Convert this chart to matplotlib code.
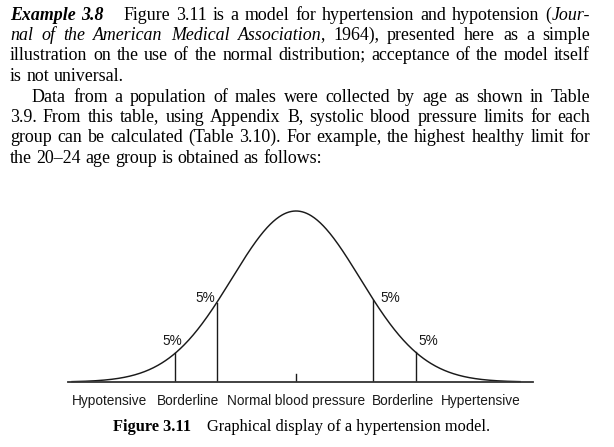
import re
import numpy as np
import matplotlib
matplotlib.use("Agg")
import matplotlib.pyplot as plt
from matplotlib.font_manager import FontProperties

W, H = 614, 447

# paragraph text, one entry per printed line: (markup, indent px, justified)
# **bold italic**, _italic_, ~ = extra gap
text_lines = [
    ("**Example 3.8** ~ Figure 3.11 is a model for hypertension and hypotension (_Jour-_", 0, True),
    ("_nal of the American Medical Association_, 1964), presented here as a simple", 0, True),
    ("illustration on the use of the normal distribution; acceptance of the model itself", 0, True),
    ("is not universal.", 0, False),
    ("Data from a population of males were collected by age as shown in Table", 22, True),
    ("3.9. From this table, using Appendix B, systolic blood pressure limits for each", 0, True),
    ("group can be calculated (Table 3.10). For example, the highest healthy limit for", 0, True),
    ("the 20\u201324 age group is obtained as follows:", 0, False),
]
line_baselines = [20, 40, 60, 81, 102, 122, 142, 163]

# model cut-offs (in standard deviations) and labels
cutoffs = [-1.89, -1.24, 1.21, 1.87]
pct_labels = ["5%", "5%", "5%", "5%"]
pct_x = [-1.94, -1.41, 1.48, 2.06]
pct_y = [0.216, 0.47, 0.47, 0.216]
categories = ["Hypotensive", "Borderline", "Normal blood pressure", "Borderline", "Hypertensive"]
category_x = [-2.91, -1.69, 0.0, 1.67, 2.89]

caption_bold = "Figure 3.11"
caption_text = "Graphical display of a hypertension model."

serif = "Liberation Serif"
sans = "Liberation Sans"
styles = {
    "n": dict(family=serif, style="normal", weight="normal"),
    "i": dict(family=serif, style="italic", weight="normal"),
    "bi": dict(family=serif, style="italic", weight="bold"),
}
body_size = 12.9

fig = plt.figure(figsize=(W / 100, H / 100), dpi=100)
renderer = fig.canvas.get_renderer()


def parse(markup):
    segs = []
    for part in re.split(r"(\*\*.*?\*\*|_.*?_)", markup):
        if part.startswith("**"):
            segs.append((part[2:-2], "bi"))
        elif part.startswith("_"):
            segs.append((part[1:-1], "i"))
        elif part:
            segs.append((part, "n"))
    words = [[]]
    for txt, st in segs:
        pieces = txt.split(" ")
        for k, p in enumerate(pieces):
            if k > 0:
                words.append([])
            if p:
                words[-1].append((p, st))
    return [w for w in words if w]


def width_of(txt, st, size):
    t = fig.text(0, 0, txt, fontsize=size, **styles[st])
    w = t.get_window_extent(renderer).width
    t.remove()
    return w


def descent_frac(txt, st, size):
    # agg snaps each word by its own descent; undo the fractional part
    prop = FontProperties(size=size, **styles[st])
    d = renderer.get_text_width_height_descent(txt, prop, ismath=False)[2]
    return d - np.floor(d)


left, right = 10.0, 590.0
for (markup, indent, justify), yb in zip(text_lines, line_baselines):
    words = parse(markup)
    widths = []
    for w in words:
        if w == [("~", "n")]:
            widths.append([7.0])
        else:
            ws = [width_of(t, s, body_size) for t, s in w]
            # italic run followed by upright punctuation sits a bit too far apart
            for k in range(1, len(w)):
                if w[k - 1][1] == "i" and w[k][1] == "n":
                    ws[k - 1] -= 1.0
            widths.append(ws)
    total = sum(sum(ws) for ws in widths)
    if justify:
        gap = (right - left - indent - total) / (len(words) - 1)
    else:
        gap = width_of("a b", "n", body_size) - width_of("ab", "n", body_size)
    x = left + indent
    for w, ws in zip(words, widths):
        for (t, s), wd in zip(w, ws):
            if t != "~":
                y = yb - descent_frac(t, s, body_size)
                fig.text(x / W, 1 - y / H, t, fontsize=body_size, va="baseline",
                         ha="left", **styles[s])
            x += wd
        x += gap

# the chart itself
sigma_px = 64.0
center_px = 296.0
base_px = 382.0
peak_px = 171.0
ax_left, ax_right, ax_top = 68.0, 533.0, 200.0
ax = fig.add_axes([ax_left / W, (H - base_px) / H, (ax_right - ax_left) / W,
                   (base_px - ax_top) / H])
ax.set_xlim((ax_left - center_px) / sigma_px, (ax_right - center_px) / sigma_px)
ax.set_ylim(0, (base_px - ax_top) / peak_px)

z = np.linspace(-3.5, 3.5, 600)
ax.plot(z, np.exp(-z ** 2 / 2), color="#1a1a1a", lw=1.05, clip_on=False)
for c in cutoffs:
    ax.plot([c, c], [0, np.exp(-c ** 2 / 2)], color="#1a1a1a", lw=1.0)
ax.plot([0, 0], [0, 8 / peak_px], color="#1a1a1a", lw=1.0)

for lab, x, y in zip(pct_labels, pct_x, pct_y):
    ax.text(x, y, lab, fontsize=9.8, family=sans, ha="center", va="baseline",
            color="#1a1a1a")
for lab, x in zip(categories, category_x):
    ax.text(x, -23 / peak_px, lab, fontsize=9.8, family=sans, ha="center",
            va="baseline", color="#1a1a1a", clip_on=False)

for s in ["top", "left", "right"]:
    ax.spines[s].set_visible(False)
ax.spines["bottom"].set_linewidth(1.3)
ax.spines["bottom"].set_color("#333333")
ax.set_xticks([])
ax.set_yticks([])
ax.patch.set_alpha(0)

# caption
cap_size = 11.75
cap_x, cap_y = 113.0, 431
t1 = fig.text(cap_x / W, 1 - cap_y / H, caption_bold, fontsize=cap_size, family=serif,
              weight="bold", va="baseline")
bw = t1.get_window_extent(renderer).width
fig.text((cap_x + bw + 16) / W, 1 - cap_y / H, caption_text, fontsize=cap_size,
         family=serif, va="baseline")

fig.savefig("out.png", dpi=100)
